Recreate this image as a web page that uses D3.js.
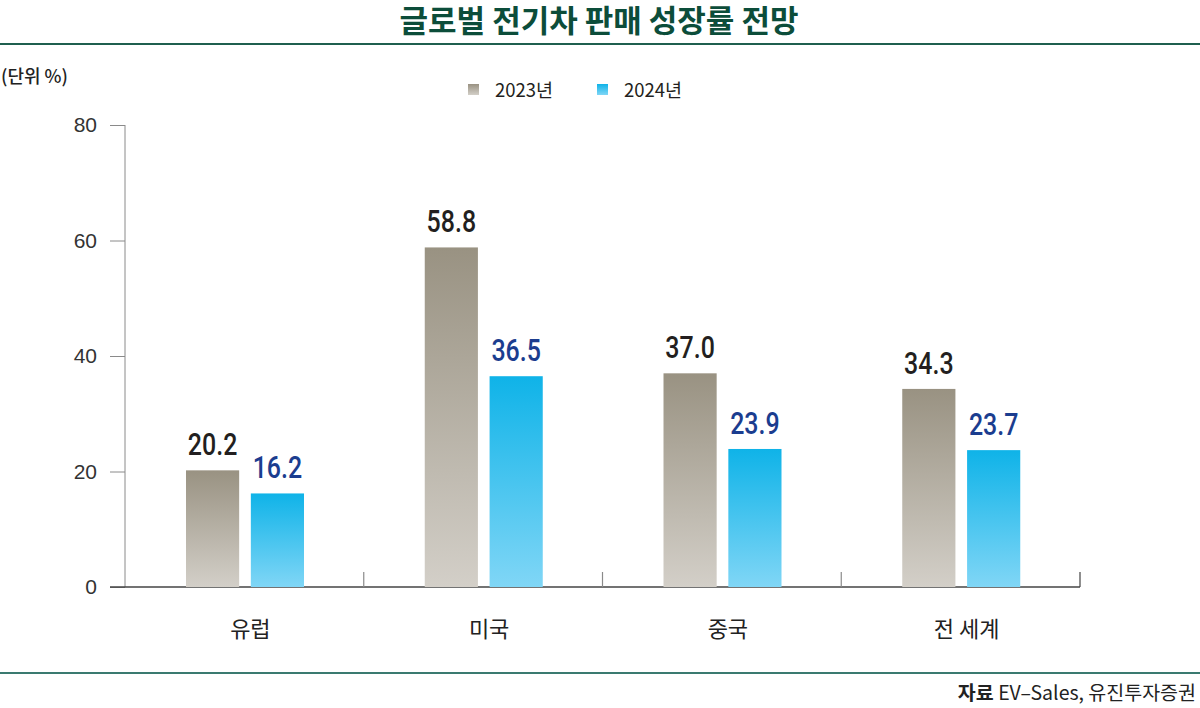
<!DOCTYPE html>
<html>
<head>
<meta charset="utf-8">
<script src="https://cdn.jsdelivr.net/npm/d3@7"></script>
<style>
  body { margin: 0; background: #fff; }
  svg { display: block; }
</style>
</head>
<body>
<div id="chart"></div>
<script>
// Data
const categories = ["유럽", "미국", "중국", "전 세계"];
const series = ["2023년", "2024년"];
const values2023 = [20.2, 58.8, 37.0, 34.3];
const values2024 = [16.2, 36.5, 23.9, 23.7];
const yTicks = [0, 20, 40, 60, 80];

const W = 1200, H = 708;
const margin = { top: 125, right: 120, bottom: 121, left: 125 };
const width = W - margin.left - margin.right;
const height = H - margin.top - margin.bottom;

const svg = d3.select("#chart").append("svg")
  .attr("width", W)
  .attr("height", H);

const font = "'Noto Sans CJK KR', 'Noto Sans', sans-serif";
const numFont = "Roboto, 'Noto Sans', sans-serif";

// Gradients for the bars
const defs = svg.append("defs");
const grads = [
  { id: "g2023", top: "#999282", bottom: "#d3cfc8" },
  { id: "g2024", top: "#0fb3e8", bottom: "#80d6f6" }
];
grads.forEach(g => {
  const lg = defs.append("linearGradient")
    .attr("id", g.id)
    .attr("x1", 0).attr("y1", 0).attr("x2", 0).attr("y2", 1);
  lg.append("stop").attr("offset", "0%").attr("stop-color", g.top);
  lg.append("stop").attr("offset", "100%").attr("stop-color", g.bottom);
});

// Title and frame lines
svg.append("text")
  .attr("x", 599).attr("y", 32)
  .attr("text-anchor", "middle")
  .style("font-family", font)
  .style("font-weight", 700)
  .style("font-size", "31px")
  .style("fill", "#0c4d3a")
  .text("글로벌 전기차 판매 성장률 전망");

svg.append("line")
  .attr("x1", 0).attr("x2", W).attr("y1", 44).attr("y2", 44)
  .attr("stroke", "#1f5f4f").attr("stroke-width", 2);

svg.append("line")
  .attr("x1", 0).attr("x2", W).attr("y1", 673).attr("y2", 673)
  .attr("stroke", "#3a7a70").attr("stroke-width", 2);

// Unit label
svg.append("text")
  .attr("x", 1).attr("y", 83)
  .style("font-family", font)
  .style("font-weight", 500)
  .style("font-size", "18px")
  .style("fill", "#222")
  .text("(단위 %)");

// Source
const src = svg.append("text")
  .attr("x", 1196).attr("y", 700)
  .attr("text-anchor", "end")
  .style("font-family", font)
  .style("font-size", "19.5px")
  .style("fill", "#222");
src.append("tspan").style("font-weight", 700).text("자료 ");
src.append("tspan").text("EV–Sales, 유진투자증권");

// Legend
const legendX = [468, 597];
series.forEach((s, i) => {
  svg.append("rect")
    .attr("x", legendX[i]).attr("y", 84)
    .attr("width", 11).attr("height", 11)
    .attr("fill", `url(#${grads[i].id})`);
  svg.append("text")
    .attr("x", legendX[i] + 27).attr("y", 97)
    .style("font-family", font)
    .style("font-size", "18.5px")
    .style("fill", "#231f20")
    .text(s);
});

const g = svg.append("g")
  .attr("transform", `translate(${margin.left},${margin.top})`);

// Scales
const x0 = d3.scaleBand().domain(categories).range([0, width]).paddingInner(0).paddingOuter(0);
const x1 = d3.scaleBand().domain(series).range([0, 118]).paddingInner(0.18);
const y = d3.scaleLinear().domain([0, 80]).range([height, 0]);

// Y axis
const yAxis = g.append("g")
  .call(d3.axisLeft(y).tickValues(yTicks).tickSize(15).tickPadding(13));
yAxis.select(".domain").attr("stroke", "#8a8a8a").attr("d", `M0,${height}V0`);
yAxis.selectAll(".tick line").attr("stroke", "#8a8a8a");
yAxis.selectAll(".tick text")
  .style("font-family", "'Liberation Sans', Arial, sans-serif")
  .style("font-size", "21px")
  .style("fill", "#333");

// X axis line and separators
g.append("line")
  .attr("x1", -15).attr("x2", width)
  .attr("y1", height).attr("y2", height)
  .attr("stroke", "#444").attr("stroke-width", 1.3);

g.selectAll(".sep")
  .data(categories.slice(1).concat(["end"]))
  .join("line")
  .attr("x1", (d, i) => x0.step() * (i + 1))
  .attr("x2", (d, i) => x0.step() * (i + 1))
  .attr("y1", height - 15).attr("y2", height)
  .attr("stroke", (d, i) => i === 3 ? "#444" : "#8a8a8a")
  .attr("stroke-width", 1.2);

// Category labels
g.selectAll(".cat")
  .data(categories)
  .join("text")
  .attr("x", d => x0(d) + x0.bandwidth() / 2 + 6)
  .attr("y", height + 50)
  .attr("text-anchor", "middle")
  .style("font-family", font)
  .style("font-size", "22px")
  .style("fill", "#222")
  .text(d => d);

// Bars
const rows = categories.map((c, i) => ({ cat: c, vals: [values2023[i], values2024[i]] }));
const offset = 61;
const groups = g.selectAll(".grp")
  .data(rows)
  .join("g")
  .attr("transform", d => `translate(${x0(d.cat) + offset},0)`);

groups.selectAll("rect")
  .data(d => d.vals.map((v, i) => ({ s: series[i], v, i })))
  .join("rect")
  .attr("x", d => x1(d.s))
  .attr("y", d => y(d.v))
  .attr("width", x1.bandwidth())
  .attr("height", d => height - y(d.v))
  .attr("fill", d => `url(#${grads[d.i].id})`);

// Value labels, narrowed to mimic the condensed face
groups.selectAll(".val")
  .data(d => d.vals.map((v, i) => ({ s: series[i], v, i })))
  .join("text")
  .attr("transform", d => `translate(${x1(d.s) + x1.bandwidth() / 2},${y(d.v) - 15}) scale(0.78,1)`)
  .attr("text-anchor", "middle")
  .style("font-family", numFont)
  .style("font-weight", 500)
  .style("font-size", "32px")
  .style("fill", d => d.i === 0 ? "#231f20" : "#1b3d8f")
  .text(d => d.v.toFixed(1));
</script>
</body>
</html>
